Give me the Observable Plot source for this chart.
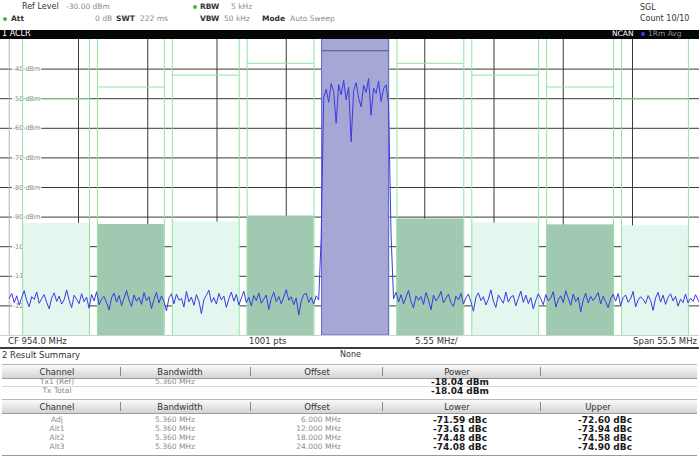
<!DOCTYPE html>
<html><head><meta charset="utf-8">
<script src="https://cdn.jsdelivr.net/npm/d3@7"></script>
<script src="https://cdn.jsdelivr.net/npm/@observablehq/plot@0.6"></script>
<style>
html,body{margin:0;padding:0;background:#fff;}
#wrap{position:relative;width:699px;height:467px;overflow:hidden;background:#fff;font-family:"DejaVu Sans",Verdana,sans-serif;}
.t{position:absolute;white-space:nowrap;line-height:10px;height:10px;}
.k{color:#333;font-weight:bold;}
.n{color:#333;}
.g{color:#8c8c8c;}
.w{color:#fff;}
.b{font-weight:bold;color:#1a1a1a;line-height:8px !important;height:8px !important;}
.dot{position:absolute;width:4px;height:4px;border-radius:2px;}
.box{position:absolute;}
#plot{position:absolute;left:0;top:39px;}
</style></head><body><div id="wrap"></div>
<script>
// ---------- data ----------
const refLevelDbm = -30, bottomDbm = -130;
const centerFreqMHz = 954.0, spanMHz = 55.5;
const gridLevels = [-40, -50, -60, -70, -80, -90, -100, -110, -120];
const gridFreqs = [931.8, 937.35, 942.9, 948.45, 954.0, 959.55, 965.1, 970.65, 976.2];
const txPowerDbm = -18.04;
const txTotalDbm = -18.04;
const bandwidthMHz = 5.36;
const txMarkerDbm = -33.8;
const rowNames = ["Adj", "Alt1", "Alt2", "Alt3"];
const offsetsMHz = [6, 12, 18, 24];
const lowerDbc = [-71.59, -73.61, -74.48, -74.08];
const upperDbc = [-72.60, -73.94, -74.58, -74.90];
const limitDbc = [-20, -24, -28, -32];
const traceStartMHz = 926.25, traceStepMHz = 0.2;
const traceDbm = [
 -117.4,-115.8,-118.9,-116.6,-119.7,-117.1,-114.9,-118.2,-120.3,-116.9,
 -117.8,-115.3,-119.1,-117.5,-116.2,-118.8,-121.0,-117.3,-115.6,-118.5,
 -116.7,-119.4,-117.9,-114.6,-118.1,-120.6,-116.4,-117.7,-119.2,-115.9,
 -118.6,-117.0,-120.8,-116.1,-118.3,-115.2,-119.6,-117.6,-116.8,-118.9,
 -121.4,-117.2,-115.7,-118.7,-116.5,-119.9,-117.4,-114.8,-118.0,-120.2,
 -116.3,-118.4,-117.1,-119.5,-115.5,-118.2,-116.9,-120.9,-117.8,-115.4,
 -119.0,-116.6,-118.5,-121.7,-117.3,-115.9,-119.3,-116.0,-118.1,-117.5,
 -120.4,-115.1,-118.6,-117.0,-119.8,-116.2,-118.3,-122.6,-117.9,-116.4,
 -114.7,-118.8,-117.2,-119.4,-115.8,-118.0,-116.7,-120.5,-117.6,-115.3,
 -118.4,-116.1,-119.7,-117.4,-115.0,-118.9,-117.1,-120.0,-116.5,-118.2,
 -115.6,-119.1,-117.7,-116.3,-121.2,-117.5,-115.4,-118.6,-116.8,-119.3,
 -117.0,-114.5,-118.1,-116.9,-119.6,-117.3,-123.1,-118.4,-116.2,-115.7,
 -118.8,-117.1,-119.4,-116.6,-118.0,
 -97.0,
 -49.5,-46.8,-51.2,-44.9,-47.6,-58.3,-45.2,-48.7,-43.8,-50.4,-46.1,-64.5,-47.3,-44.6,
 -49.8,-52.7,-45.5,-47.9,-43.2,-55.6,-46.4,-48.2,-44.1,-50.9,-46.7,-45.3,-51.8,
 -96.0,
 -117.6,-115.4,-118.7,-116.2,-119.3,-117.0,-114.8,-118.5,-120.7,-116.6,
 -118.1,-116.8,-119.5,-115.5,-117.9,-121.3,-116.4,-118.3,-117.2,-115.1,
 -119.0,-117.4,-116.1,-118.9,-120.2,-116.7,-118.0,-115.8,-119.4,-117.3,
 -116.0,-118.6,-121.8,-117.1,-115.6,-118.2,-116.9,-119.7,-117.7,-114.6,
 -118.4,-120.5,-116.3,-117.8,-119.1,-115.3,-118.7,-117.0,-116.5,-120.0,
 -117.5,-115.0,-118.8,-116.4,-119.2,-117.2,-121.0,-118.1,-115.9,-117.6,
 -119.6,-116.2,-118.3,-117.3,-115.2,-120.4,-117.9,-116.6,-118.9,-114.9,
 -117.4,-119.8,-116.0,-118.5,-117.1,-122.0,-118.0,-115.7,-119.0,-116.8,
 -118.2,-117.0,-115.5,-119.3,-116.7,-118.6,-120.6,-117.5,-116.1,-118.4,
 -115.8,-119.9,-117.2,-116.3,-118.8,-117.6,-115.1,-120.3,-118.0,-116.9,
 -117.8,-119.2,-116.5,-118.1,-121.5,-117.3,-115.4,-118.7,-116.4,-119.5,
 -117.1,-115.9,-118.3,-116.8,-120.1,-117.7,-118.9,-116.0,-119.0,-117.4,
 -118.5,-116.2,-117.9,-119.6
];

// ---------- derived tables ----------
const trace = traceDbm.map((p, i) => ({f: traceStartMHz + i * traceStepMHz, p}));
const side = [];
rowNames.forEach((n, i) => {
  const kind = i % 2 === 0 ? "dark" : "mint";
  side.push({name: n, f: centerFreqMHz - offsetsMHz[i], p: txPowerDbm + lowerDbc[i], lim: txPowerDbm + limitDbc[i], kind});
  side.push({name: n, f: centerFreqMHz + offsetsMHz[i], p: txPowerDbm + upperDbc[i], lim: txPowerDbm + limitDbc[i], kind});
});
const tx = {name: "Tx1", f: centerFreqMHz, p: txPowerDbm};
const allCh = [tx, ...side];
const edges = allCh.flatMap(c => [c.f - bandwidthMHz / 2, c.f + bandwidthMHz / 2]);
const X0 = centerFreqMHz - spanMHz / 2, X1 = centerFreqMHz + spanMHz / 2;
const GREEN = "#8ee6a4";

// ---------- chart ----------
const chart = Plot.plot({
  width: 699, height: 296, margin: 0,
  x: {domain: [X0, X1], range: [8.75, 701.25], axis: null},
  y: {domain: [bottomDbm, refLevelDbm], range: [296, 0], axis: null},
  style: {fontFamily: "DejaVu Sans", background: "transparent", overflow: "hidden"},
  marks: [
    Plot.ruleY(gridLevels, {stroke: "#3a3a3a", strokeWidth: 1}),
    Plot.ruleX(gridFreqs, {stroke: "#3a3a3a", strokeWidth: 1}),
    Plot.ruleX([X0], {stroke: "#b5b5b5"}),
    Plot.text(gridLevels, {x: () => X0, y: d => d, text: d => `${d} dBm`, textAnchor: "start", dx: 3.5,
      fontSize: 6.5, fill: "#8a8a8a", stroke: "white", strokeWidth: 2.5}),
    Plot.rect(side, {x1: d => d.f - bandwidthMHz / 2, x2: d => d.f + bandwidthMHz / 2, y1: () => bottomDbm, y2: d => d.p,
      fill: d => d.kind === "dark" ? "#a1c8b1" : "#e3f7ef"}),
    Plot.ruleX(edges, {stroke: GREEN, strokeWidth: 1}),
    Plot.ruleY(side, {y: d => d.lim, x1: d => d.f - bandwidthMHz / 2, x2: d => d.f + bandwidthMHz / 2, stroke: GREEN, strokeWidth: 1}),
    Plot.rect([tx], {x1: d => d.f - bandwidthMHz / 2, x2: d => d.f + bandwidthMHz / 2, y1: () => bottomDbm, y2: d => d.p,
      fill: "#a7a7d6", stroke: "#6464d8", strokeWidth: 1, clip: true}),
    Plot.ruleY([txMarkerDbm], {x1: () => tx.f - bandwidthMHz / 2, x2: () => tx.f + bandwidthMHz / 2, stroke: "#55557a", strokeWidth: 1}),
    Plot.line(trace, {x: "f", y: "p", stroke: "#3a3ae2", strokeWidth: 1, clip: true})
  ]
});
chart.id = "plot";

// ---------- page ----------
const wrap = document.getElementById("wrap");
function T(txt, x, yc, cls, size, anchor) {
  const d = document.createElement("div");
  d.className = "t " + cls;
  d.textContent = txt;
  d.style.fontSize = size + "px";
  const h = cls === "b" ? 8 : 10;
  d.style.top = (yc - h / 2) + "px";
  d.style.left = x + "px";
  if (anchor === "c") d.style.transform = "translateX(-50%)";
  if (anchor === "r") d.style.transform = "translateX(-100%)";
  wrap.appendChild(d);
}
function B(x, y, w, h, css) {
  const d = document.createElement("div");
  d.className = "box";
  d.style.cssText += `left:${x}px;top:${y}px;width:${w}px;height:${h}px;` + css;
  wrap.appendChild(d);
}
function dot(x, y, c) {
  const d = document.createElement("div");
  d.className = "dot"; d.style.left = (x - 2) + "px"; d.style.top = (y - 2) + "px"; d.style.background = c;
  wrap.appendChild(d);
}

// header
T("Ref Level", 22, 7, "n", 8);
T(`${refLevelDbm.toFixed(2)} dBm`, 66, 7, "g", 7.5);
dot(5, 19, "#3cb94e");
T("Att", 11, 19, "k", 7.5);
T("0 dB", 95, 19, "g", 7.5);
T("SWT", 116, 19, "k", 7.5);
T("222 ms", 140, 19, "g", 7.5);
dot(195, 7, "#3cb94e");
T("RBW", 200, 7, "k", 7.5);
T("5 kHz", 231, 7, "g", 7.5);
T("VBW", 200, 19, "k", 7.5);
T("50 kHz", 224, 19, "g", 7.5);
T("Mode", 262, 19, "k", 7.5);
T("Auto Sweep", 290, 19, "g", 7.5);
T("SGL", 640, 8, "n", 8);
T("Count 10/10", 640, 19, "n", 8);

// black title bar
B(0, 30, 699, 9, "background:#060606;");
T("1 ACLR", 2, 34, "w", 8);
T("NCAN", 612, 34, "w", 7.5);
dot(643, 34, "#3b3bff");
T("1Rm Avg", 648, 34, "g", 7.5);

wrap.appendChild(chart);

// bottom axis info
B(0, 335, 699, 1, "background:#cfcfcf;");
T(`CF ${centerFreqMHz.toFixed(1)} MHz`, 8, 341, "n", 8.5);
T("1001 pts", 249, 341, "n", 8.5);
T(`${(spanMHz / 10).toFixed(2)} MHz/`, 415, 341, "n", 8.5);
T(`Span ${spanMHz.toFixed(1)} MHz`, 697, 341, "n", 8.5, "r");
B(0, 347, 699, 2, "background:#3c3c3c;");

// result summary table
T("2 Result Summary", 2, 355, "n", 8.5);
T("None", 340, 355, "n", 8);
const HDR = "background:linear-gradient(#fafafa,#d4d4d4);border-top:1px solid #b8b8b8;border-bottom:1px solid #9a9a9a;";
const colSeps = [120, 250, 382, 540];
function header(y, labels) {
  B(2, y, 695, 13, HDR);
  colSeps.forEach(x => B(x, y + 3, 1, 9, "background:#8a8a8a;"));
  const cx = [57, 180, 317, 457, 598];
  labels.forEach((l, i) => { if (l) T(l, cx[i], y + 8, "n", 8.5, "c"); });
}
header(364, ["Channel", "Bandwidth", "Offset", "Power", ""]);
B(2, 386, 695, 1, "background:#d8d8d8;");
T("Tx1 (Ref)", 57, 382, "g", 7.5, "c");
T(`${bandwidthMHz.toFixed(3)} MHz`, 175, 382, "g", 7.5, "c");
T(`${txPowerDbm.toFixed(2)} dBm`, 460, 382, "b", 9, "c");
T("Tx Total", 57, 391, "g", 7.5, "c");
T(`${txTotalDbm.toFixed(2)} dBm`, 460, 391, "b", 9, "c");
header(399, ["Channel", "Bandwidth", "Offset", "Lower", "Upper"]);
rowNames.forEach((n, i) => {
  const y = 420 + i * 9;
  T(n, 57, y, "g", 7.5, "c");
  T(`${bandwidthMHz.toFixed(3)} MHz`, 175, y, "g", 7.5, "c");
  T(`${offsetsMHz[i].toFixed(3)} MHz`, 341, y, "g", 7.5, "r");
  T(`${lowerDbc[i].toFixed(2)} dBc`, 460, y, "b", 9, "c");
  T(`${upperDbc[i].toFixed(2)} dBc`, 605, y, "b", 9, "c");
});
B(2, 455, 695, 1, "background:#9a9a9a;");
</script></body></html>
